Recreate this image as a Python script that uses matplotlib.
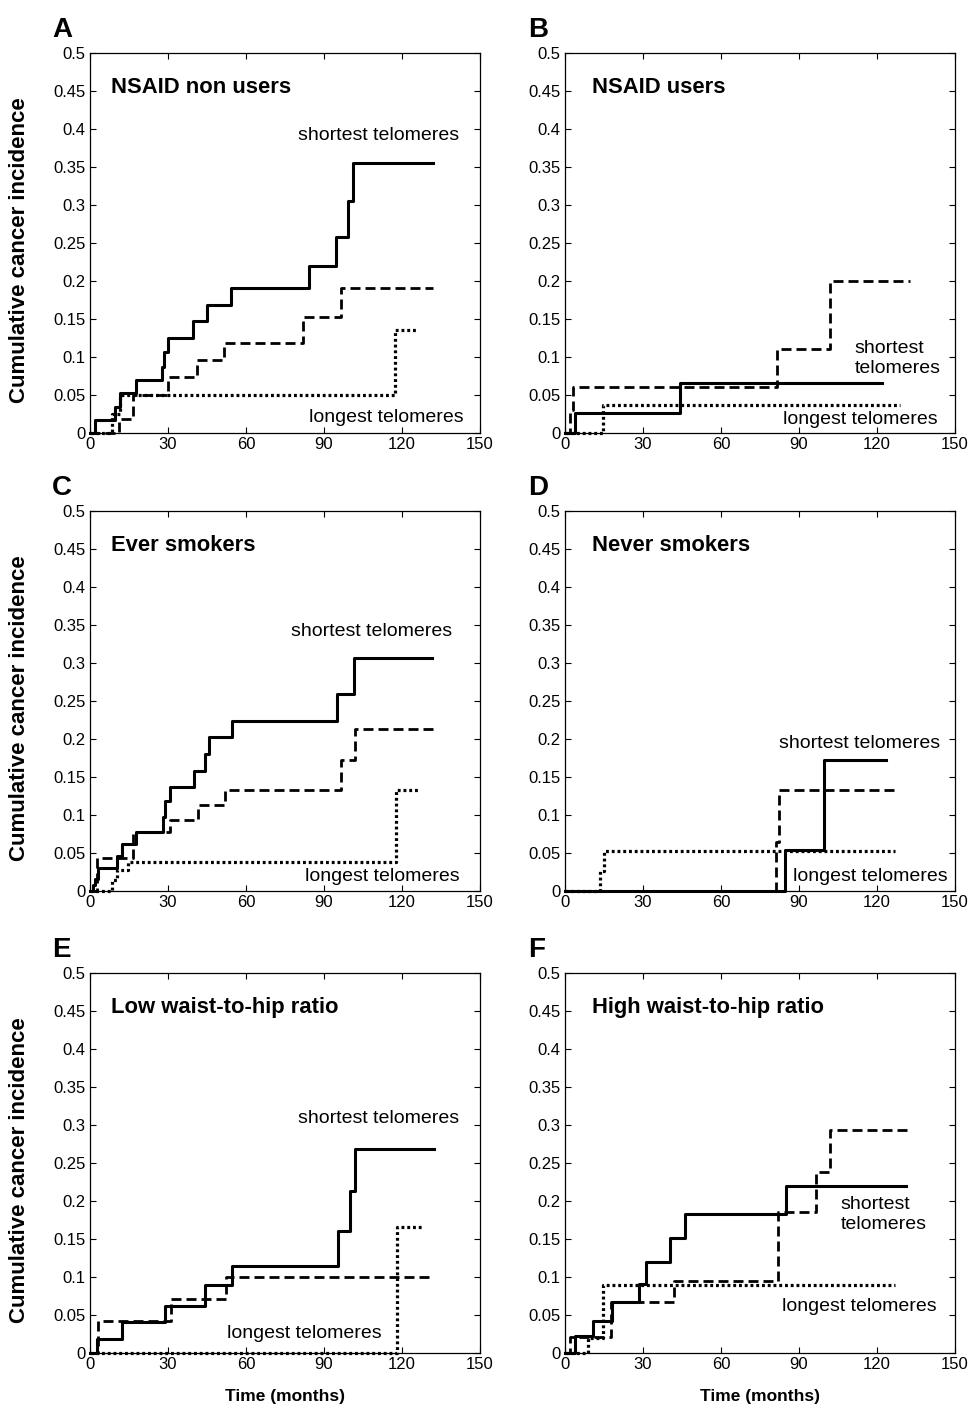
import matplotlib
matplotlib.use('Agg')
import matplotlib.pyplot as plt

plt.rcParams['font.family'] = ['Liberation Sans', 'DejaVu Sans']

# months / cumulative incidence, step changes (value holds until next time)
# panel A - NSAID non users
a_short_t = [0, 2, 9.5, 11.5, 17.6, 27.8, 28.5, 30.1, 39.5, 45.1, 54.1, 84.4, 94.6, 99.4, 101.3, 131.8]
a_short_v = [0, 0.0175, 0.034, 0.052, 0.07, 0.087, 0.106, 0.125, 0.147, 0.169, 0.191, 0.22, 0.258, 0.305, 0.355, 0.355]
a_mid_t = [0, 11, 16.7, 30.1, 41, 51.7, 82, 96.4, 131.8]
a_mid_v = [0, 0.018, 0.05, 0.074, 0.096, 0.119, 0.153, 0.191, 0.191]
a_long_t = [0, 8.5, 11.5, 117.3, 126.3]
a_long_v = [0, 0.025, 0.05, 0.136, 0.136]

# panel B - NSAID users
b_short_t = [0, 3.7, 44.4, 122]
b_short_v = [0, 0.026, 0.066, 0.066]
b_mid_t = [0, 1.8, 3.1, 81.5, 102, 132.6]
b_mid_v = [0, 0.03, 0.061, 0.11, 0.2, 0.2]
b_long_t = [0, 14.6, 128.7]
b_long_v = [0, 0.037, 0.037]

# panel C - ever smokers
c_short_t = [0, 1, 2, 3, 10.3, 12.2, 17.7, 28.2, 29, 30.7, 40, 44.1, 45.7, 54.6, 95, 101.6, 131.6]
c_short_v = [0, 0.008, 0.016, 0.03, 0.046, 0.062, 0.078, 0.098, 0.118, 0.137, 0.158, 0.18, 0.203, 0.224, 0.259, 0.307, 0.307]
c_mid_t = [0, 2.6, 16.7, 30.7, 41.6, 52, 96.5, 101.8, 132]
c_mid_v = [0, 0.044, 0.077, 0.094, 0.113, 0.133, 0.172, 0.213, 0.213]
c_long_t = [0, 8.4, 10.5, 14.5, 117.6, 126.8]
c_long_v = [0, 0.015, 0.028, 0.038, 0.133, 0.133]

# panel D - never smokers
d_short_t = [0, 84.7, 99.7, 123.5]
d_short_v = [0, 0.054, 0.172, 0.172]
d_mid_t = [0, 81.2, 82.4, 127]
d_mid_v = [0, 0.065, 0.133, 0.133]
d_long_t = [0, 13.6, 15, 127]
d_long_v = [0, 0.026, 0.052, 0.052]

# panel E - low waist-to-hip ratio
e_short_t = [0, 2.7, 12.3, 28.7, 44.4, 54.6, 95.3, 100.1, 102, 132.2]
e_short_v = [0, 0.019, 0.041, 0.062, 0.089, 0.114, 0.161, 0.213, 0.269, 0.269]
e_mid_t = [0, 3, 31.2, 52.4, 131.3]
e_mid_v = [0, 0.042, 0.071, 0.1, 0.1]
e_long_t = [0, 118, 127.7]
e_long_v = [0, 0.166, 0.166]

# panel F - high waist-to-hip ratio
f_short_t = [0, 3.7, 10.8, 18.2, 28.5, 31.3, 40.5, 46, 85.1, 131]
f_short_v = [0, 0.022, 0.042, 0.067, 0.091, 0.12, 0.151, 0.183, 0.22, 0.22]
f_mid_t = [0, 1.8, 17.8, 41.8, 82, 96.7, 102, 132.6]
f_mid_v = [0, 0.021, 0.067, 0.095, 0.185, 0.238, 0.293, 0.293]
f_long_t = [0, 8.8, 14.6, 126.8]
f_long_v = [0, 0.02, 0.089, 0.089]

letters = ['A', 'B', 'C', 'D', 'E', 'F']
titles = ['NSAID non users', 'NSAID users', 'Ever smokers', 'Never smokers',
          'Low waist-to-hip ratio', 'High waist-to-hip ratio']
x_ticks = [0, 30, 60, 90, 120, 150]
y_ticks = [0, 0.05, 0.1, 0.15, 0.2, 0.25, 0.3, 0.35, 0.4, 0.45, 0.5]
y_tick_labels = ['0', '0.05', '0.1', '0.15', '0.2', '0.25', '0.3', '0.35', '0.4', '0.45', '0.5']

# (text, x in months, y value) for the curve labels
short_labels = [('shortest telomeres', 80, 0.391), ('shortest\ntelomeres', 111.4, 0.098),
                ('shortest telomeres', 77.2, 0.341), ('shortest telomeres', 82.3, 0.194),
                ('shortest telomeres', 79.9, 0.308), ('shortest\ntelomeres', 106, 0.182)]
long_labels = [('longest telomeres', 84.2, 0.021), ('longest telomeres', 84, 0.0175),
               ('longest telomeres', 82.6, 0.019), ('longest telomeres', 87.7, 0.019),
               ('longest telomeres', 52.7, 0.0256), ('longest telomeres', 83.3, 0.061)]

curves = [
    (a_short_t, a_short_v, a_mid_t, a_mid_v, a_long_t, a_long_v),
    (b_short_t, b_short_v, b_mid_t, b_mid_v, b_long_t, b_long_v),
    (c_short_t, c_short_v, c_mid_t, c_mid_v, c_long_t, c_long_v),
    (d_short_t, d_short_v, d_mid_t, d_mid_v, d_long_t, d_long_v),
    (e_short_t, e_short_v, e_mid_t, e_mid_v, e_long_t, e_long_v),
    (f_short_t, f_short_v, f_mid_t, f_mid_v, f_long_t, f_long_v),
]

W, H = 972, 1407
fig = plt.figure(figsize=(W / 100, H / 100), dpi=100)

col_left = [90, 565]
row_top = [53, 511, 973]
ax_w, ax_h = 390, 380

for i in range(6):
    r, c = divmod(i, 2)
    left = col_left[c] / W
    bottom = 1 - (row_top[r] + ax_h) / H
    ax = fig.add_axes([left, bottom, ax_w / W, ax_h / H])

    st, sv, mt, mv, lt, lv = curves[i]
    ax.step(st, sv, where='post', color='black', lw=2.2, clip_on=False)
    ax.step(mt, mv, where='post', color='black', lw=2.0, linestyle=(0, (3.6, 1.8)), clip_on=False)
    ax.step(lt, lv, where='post', color='black', lw=2.3, linestyle=(0, (0.9, 0.9)), clip_on=False)

    ax.set_xlim(0, 150)
    ax.set_ylim(0, 0.5)
    ax.set_xticks(x_ticks)
    ax.set_yticks(y_ticks)
    ax.set_yticklabels(y_tick_labels)
    ax.tick_params(direction='in', top=True, right=True, length=4, width=0.8,
                   labelsize=12, pad=3)
    for sp in ax.spines.values():
        sp.set_linewidth(0.9)

    tx = 0.053 if c == 0 else 0.068
    ax.text(tx, 0.91, titles[i], transform=ax.transAxes, fontsize=15.8,
            fontweight='bold', ha='left', va='center')

    txt, x, y = short_labels[i]
    ax.text(x, y, txt, fontsize=14, ha='left', va='center', linespacing=1.2)
    txt, x, y = long_labels[i]
    ax.text(x, y, txt, fontsize=14, ha='left', va='center')

    if c == 0:
        ax.set_ylabel('Cumulative cancer incidence', fontsize=16, fontweight='bold')
        ax.yaxis.set_label_coords(-0.155, 0.48)
    if r == 2:
        ax.set_xlabel('Time (months)', fontsize=12.5, fontweight='bold', labelpad=12)

    lx = 52 if c == 0 else 528
    fig.text(lx / W, 1 - (row_top[r] - 16) / H, letters[i], fontsize=20,
             fontweight='bold', ha='left', va='baseline')

fig.savefig('out.png', dpi=100)
